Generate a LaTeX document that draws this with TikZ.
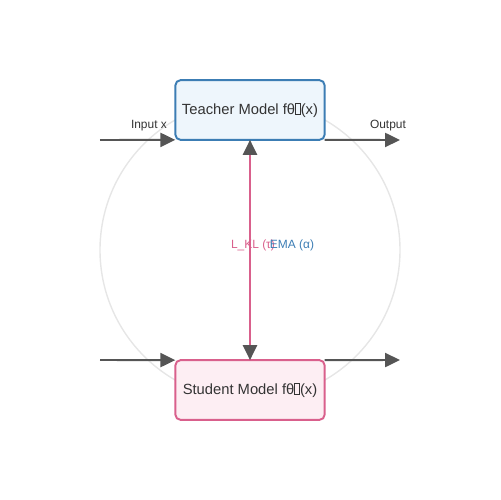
\documentclass[tikz,border=0pt]{standalone}
\usepackage{fontspec}
\setmainfont{Liberation Sans}
\usetikzlibrary{arrows.meta}
\definecolor{teacherline}{HTML}{3C7DB4}
\definecolor{teacherfill}{HTML}{EEF6FC}
\definecolor{studentline}{HTML}{D9608C}
\definecolor{studentfill}{HTML}{FDEEF3}
\definecolor{arrowgray}{HTML}{555555}
\definecolor{circlegray}{HTML}{E6E6E6}
\definecolor{textgray}{HTML}{333333}
\newcommand{\missingglyph}{{\setlength{\fboxsep}{0pt}\setlength{\fboxrule}{0.35pt}\fbox{\rule{0pt}{0.72em}\hspace{0.3em}}}}
\tikzset{
  model/.style={draw, line width=1.1pt, rounded corners=3pt, minimum width=85pt, minimum height=34pt, inner sep=0pt, outer sep=0pt, font=\fontsize{8.4}{10}\selectfont, text=textgray},
  flow/.style={line width=1.1pt, draw=arrowgray, -{Triangle[length=8.5pt,width=8pt,color=arrowgray]}},
  small/.style={font=\fontsize{6.8}{8}\selectfont, text=textgray}
}
\begin{document}
\begin{tikzpicture}[x=0.02cm, y=-0.02cm]
\useasboundingbox (0,0) rectangle (500,500);
\draw[circlegray, line width=0.8pt] (250,250) circle (150);
\node[model, draw=teacherline, fill=teacherfill] (teacher) at (250,110) {Teacher Model fθ\missingglyph(x)};
\node[model, draw=studentline, fill=studentfill] (student) at (250,390) {Student Model fθ\missingglyph(x)};
\coordinate (inT) at (100,140);
\coordinate (outT) at (400,140);
\coordinate (inS) at (100,360);
\coordinate (outS) at (400,360);
\draw[flow] (inT) -- (teacher.south west) node[small, pos=0.65, above=1pt] {Input x};
\draw[flow] (teacher.south east) -- (outT) node[small, pos=0.84, above=1pt] {Output};
\draw[flow] (inS) -- (student.north west);
\draw[flow] (student.north east) -- (outS);
\draw[line width=1.1pt, draw=studentline, {Triangle[length=8.5pt,width=8pt,color=arrowgray]}-{Triangle[length=8.5pt,width=8pt,color=arrowgray]}] (teacher.south) -- (student.north);
\node[small, text=studentline] (kl) at (253,245) {L\_KL (τ)};
\node[small, text=teacherline] (ema) at (292,245) {EMA (α)};
\end{tikzpicture}
\end{document}
